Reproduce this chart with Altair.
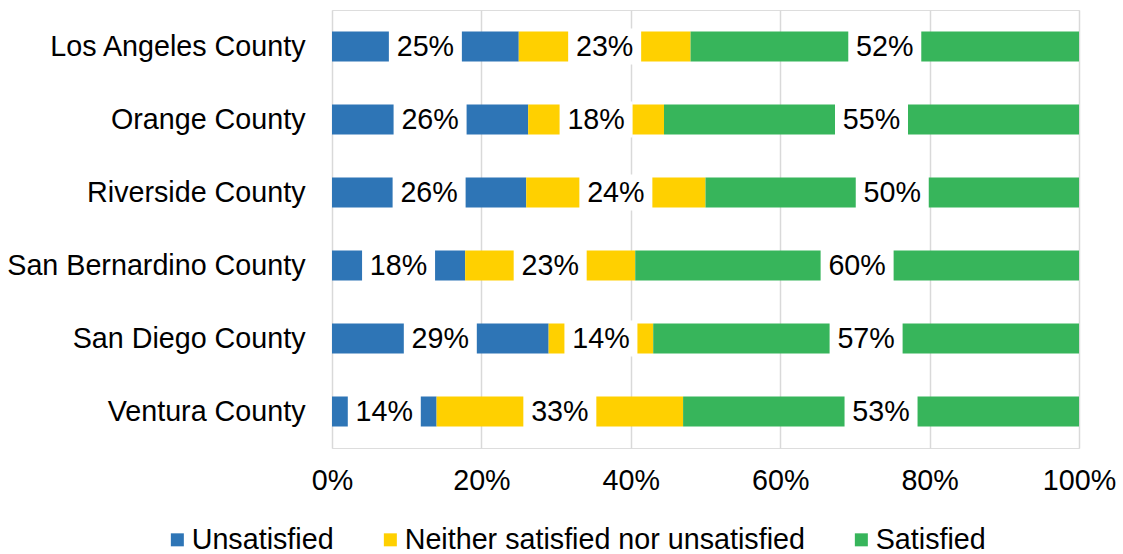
import altair as alt
import pandas as pd

counties = ["Los Angeles County", "Orange County", "Riverside County",
            "San Bernardino County", "San Diego County", "Ventura County"]
categories = ["Unsatisfied", "Neither satisfied nor unsatisfied", "Satisfied"]
unsatisfied = [25, 26, 26, 18, 29, 14]
neither = [23, 18, 24, 23, 14, 33]
satisfied = [52, 55, 50, 60, 57, 53]
colors = ["#2E75B6", "#FFD000", "#37B55B"]

rows = []
for i, c in enumerate(counties):
    vals = [unsatisfied[i], neither[i], satisfied[i]]
    tot = sum(vals)
    start = 0.0
    for k, cat in enumerate(categories):
        frac = vals[k] / tot
        rows.append({"county": c, "cat": cat, "order": k, "value": vals[k],
                     "start": start, "end": start + frac,
                     "mid": start + frac / 2, "label": f"{vals[k]}%"})
        start += frac
df = pd.DataFrame(rows)

font = "Liberation Sans"
fs = 28.7
yenc = alt.Y("county:N", sort=counties, title=None,
             scale=alt.Scale(paddingInner=0.59, paddingOuter=0.295),
             axis=alt.Axis(domain=False, ticks=False, labelFontSize=fs,
                           labelFont=font, labelColor="#000000", labelPadding=27,
                           labelLimit=400))

bars = alt.Chart(df).mark_bar(size=30).encode(
    x=alt.X("start:Q", scale=alt.Scale(domain=[0, 1]), title=None,
            axis=alt.Axis(format=".0%", values=[0, 0.2, 0.4, 0.6, 0.8, 1.0],
                          domain=False, ticks=False, grid=True, gridColor="#D9D9D9",
                          gridWidth=1.5, labelFontSize=fs, labelFont=font,
                          labelColor="#000000", labelPadding=18, labelFlush=False)),
    x2="end:Q",
    y=yenc,
    color=alt.Color("cat:N", sort=categories,
                    scale=alt.Scale(domain=categories, range=colors),
                    legend=alt.Legend(title=None, orient="none", direction="horizontal",
                                      legendX=-169, legendY=515,
                                      symbolType="square", symbolSize=169,
                                      symbolStrokeWidth=0, labelFontSize=fs,
                                      labelFont=font, labelColor="#000000",
                                      columnPadding=42, labelOffset=0,
                                      labelLimit=600)),
)

boxes = alt.Chart(df).mark_tick(thickness=73, size=36, color="white", opacity=1).encode(
    x="mid:Q", y=alt.Y("county:N", sort=counties))

texts = alt.Chart(df).mark_text(fontSize=fs, font=font, color="#000000").encode(
    x="mid:Q", y=alt.Y("county:N", sort=counties), text="label:N")

chart = alt.layer(bars, boxes, texts).properties(
    width=747, height=438,
    autosize=alt.AutoSizeParams(type="none"),
    padding={"left": 332, "top": 10, "right": 44, "bottom": 106},
).configure_view(strokeWidth=0).configure(background="white")

chart.save("out.html", embed_options={"renderer": "svg", "actions": False})
